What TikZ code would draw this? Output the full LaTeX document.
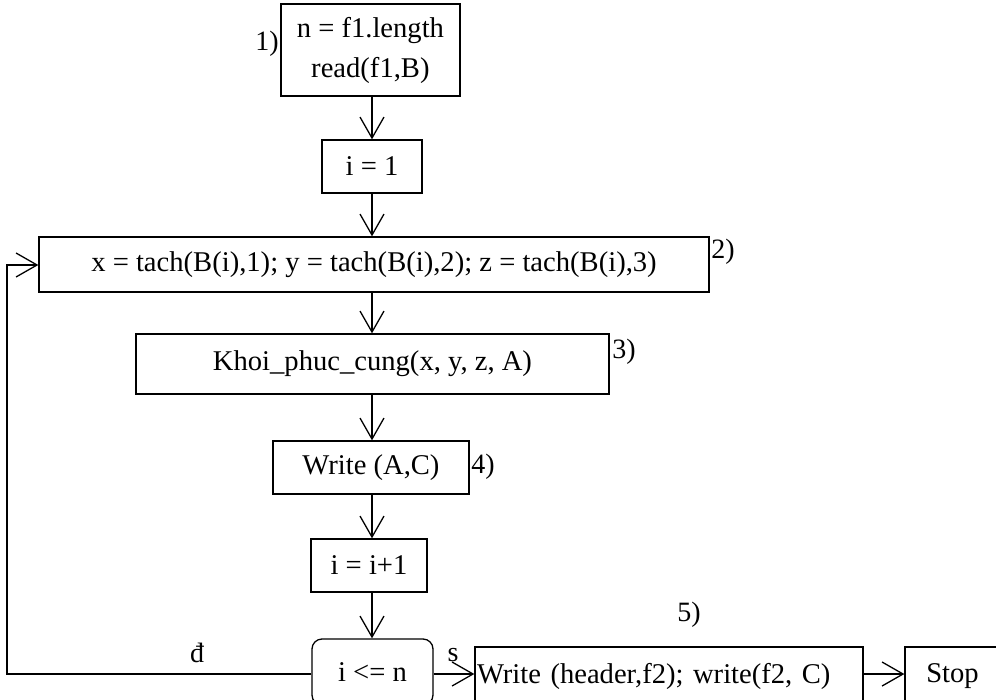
\documentclass[tikz,border=0pt]{standalone}
\usepackage{fontspec}
\setmainfont{Liberation Serif}
\usetikzlibrary{arrows.meta}
\begin{document}
\begin{tikzpicture}[x=1pt,y=-1pt,
 box/.style={draw, line width=1.3pt, inner sep=0pt, font=\fontsize{28.6}{40}\selectfont, align=center},
 lbl/.style={inner sep=0pt, font=\fontsize{28}{32}\selectfont},
 conn/.style={line width=1.3pt, -{Straight Barb[length=21pt,width=24pt]}},
 plain/.style={line width=1.3pt}]
\useasboundingbox (0,0) rectangle (996,699);
\coordinate (col) at (372,0);
\coordinate (row) at (0,674);
\node[box, minimum width=179pt, minimum height=92pt] (b1) at (370.4,50) {n = f1.length\\read(f1,B)};
\node[box, minimum width=100pt, minimum height=53pt] (b2) at (372,166.5) {i = 1};
\node[box, minimum width=670pt, minimum height=55pt] (b3) at (374,264.5) {x = tach(B(i),1); y = tach(B(i),2); z = tach(B(i),3)};
\node[box, minimum width=473pt, minimum height=60pt] (b4) at (372.5,364) {Khoi\_phuc\_cung(x, y, z, A)};
\node[box, minimum width=196pt, minimum height=53pt] (b5) at (371,467.5) {Write (A,C)};
\node[box, minimum width=116pt, minimum height=53pt] (b6) at (369,565.5) {i = i+1};
\node[box, rounded corners=10pt, minimum width=121pt, minimum height=66pt] (b7) at (372.5,672) {i <= n};
\node[box, minimum height=58pt, text width=384pt, align=left, inner xsep=2pt] (b8) at (669,676) {Write (header,f2); write(f2, C)};
\node[box, minimum width=95pt, minimum height=58pt] (b9) at (952.5,676) {Stop};
\node[lbl] (l1) at (267,44) {1)};
\node[lbl] (l2) at (723,252) {2)};
\node[lbl] (l3) at (624,352) {3)};
\node[lbl] (l4) at (483,467) {4)};
\node[lbl] (l5) at (689,615) {5)};
\node[lbl] (ld) at (197,653) {đ};
\node[lbl] (ls) at (453,655) {s};
\coordinate (fb1) at (7,674);
\coordinate (fb2) at (7,265);
\draw[conn] (b1.south -| col) -- (b2.north -| col);
\draw[conn] (b2.south -| col) -- (b3.north -| col);
\draw[conn] (b3.south -| col) -- (b4.north -| col);
\draw[conn] (b4.south -| col) -- (b5.north -| col);
\draw[conn] (b5.south -| col) -- (b6.north -| col);
\draw[conn] (b6.south -| col) -- (b7.north -| col);
\draw[conn] (b7.east |- row) -- (b8.west |- row);
\draw[conn] (b8.east |- row) -- (b9.west |- row);
\draw[conn] (b7.west |- row) -- (fb1) -- (fb2) -- (b3.west |- fb2);
\end{tikzpicture}
\end{document}
